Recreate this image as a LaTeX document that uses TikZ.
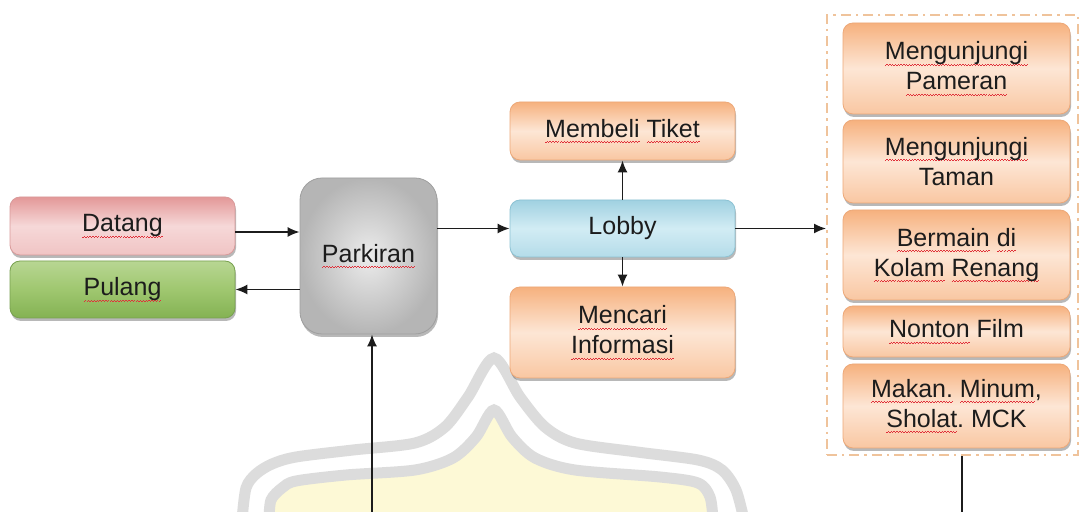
\documentclass[tikz,border=0pt]{standalone}
\usepackage{fontspec}
\setmainfont{Liberation Sans}
\usetikzlibrary{arrows.meta,shadows,calc}

\definecolor{ink}{HTML}{1C1C1C}
\definecolor{spellred}{HTML}{E0303A}
\definecolor{pinkT}{HTML}{E39898}
\definecolor{pinkM}{HTML}{F6D8D8}
\definecolor{pinkB}{HTML}{F0C4C4}
\definecolor{pinkE}{HTML}{D99A9A}
\definecolor{greenT}{HTML}{B8D693}
\definecolor{greenM}{HTML}{9FC76F}
\definecolor{greenB}{HTML}{84B253}
\definecolor{greenE}{HTML}{78A150}
\definecolor{blueT}{HTML}{A0D1E1}
\definecolor{blueM}{HTML}{D2ECF4}
\definecolor{blueB}{HTML}{B4DCE9}
\definecolor{blueE}{HTML}{8CC2D3}
\definecolor{orT}{HTML}{F6B17E}
\definecolor{orM}{HTML}{FDE6D5}
\definecolor{orB}{HTML}{F9C7A2}
\definecolor{orE}{HTML}{EDA878}
\definecolor{frameC}{HTML}{EFC39B}
\definecolor{markGray}{HTML}{DCDCDC}
\definecolor{markYellow}{HTML}{FDF9D6}

% word with a wavy red underline
\newcommand\spellmark[1]{\setbox0\hbox{#1}\leavevmode
  \rlap{\textcolor{spellred}{\hbox to\wd0{\xleaders\hbox{\rule[-2.9pt]{0.7pt}{0.45pt}\rule[-2.4pt]{0.7pt}{0.45pt}}\hfil}}}\box0\relax}

\begin{document}
\frenchspacing
\begin{tikzpicture}[x=0.5pt,y=-0.5pt,
  txt/.style={font=\fontsize{12.5}{15}\selectfont, text=ink, align=center},
  card/.style={txt, rectangle, rounded corners=5pt, inner sep=0pt, line width=0.4pt,
    drop shadow={shadow xshift=0.5pt, shadow yshift=-1.5pt, opacity=0.28, fill=black}},
  pinkcard/.style={card, draw=pinkE, top color=pinkT, bottom color=pinkB, middle color=pinkM},
  greencard/.style={card, draw=greenE, top color=greenT, bottom color=greenB, middle color=greenM},
  bluecard/.style={card, draw=blueE, top color=blueT, bottom color=blueB, middle color=blueM},
  orangecard/.style={card, draw=orE, top color=orT, bottom color=orB, middle color=orM},
  graycard/.style={card, rounded corners=11pt, draw=gray!75, inner color=gray!15, outer color=gray!58},
  frame/.style={draw=frameC, line width=1pt, dash pattern=on 5pt off 2.5pt on 1.2pt off 2.5pt},
  link/.style={draw=ink, line width=0.8pt},
  arr/.style={link, -{Latex[length=6pt,width=5pt]}},
  band/.style={draw=markGray, line width=5.5pt},
]
\useasboundingbox (0,0) rectangle (1081,512);
\fill[white] (0,0) rectangle (1081,512);

% faint emblem in the background
\begin{scope}
  \clip (0,0) rectangle (1081,512);
  \def\innerarch{(269,520) (271,500) (282,488) (296,481) (346,475) (415,470) (453,458) (476,437) (494,410) (512,437) (535,458) (575,470) (660,477) (698,483) (710,497) (713,520)}
  \def\outerarch{(242,520) (246,488) (256,474) (272,464) (296,457) (353,450) (415,443) (445,427) (468,397) (494,358) (520,397) (545,427) (575,443) (637,452) (698,460) (722,470) (736,490) (744,520)}
  \fill[markYellow] plot[smooth] coordinates {\innerarch} -- cycle;
  \draw[band] plot[smooth] coordinates {\outerarch};
  \draw[band] plot[smooth] coordinates {\innerarch};
\end{scope}

% left column
\node[pinkcard, minimum width=112.5pt, minimum height=29pt] (datang) at (122.5,226) {\spellmark{Datang}};
\node[greencard, minimum width=112.5pt, minimum height=28.5pt] (pulang) at (122.5,289.5) {\spellmark{Pulang}};
\node[graycard, minimum width=68.5pt, minimum height=78pt] (parkir) at (368.5,256) {\spellmark{Parkiran}};

% lobby and its branches
\node[bluecard, minimum width=112.5pt, minimum height=28.5pt] (lobby) at (622.5,228.5) {Lobby};
\node[orangecard, minimum width=112.5pt, minimum height=29pt] (tiket) at (622.5,131) {\spellmark{Membeli} \spellmark{Tiket}};
\node[orangecard, minimum width=112.5pt, minimum height=45.5pt] (info) at (622.5,332.5) {\spellmark{Mencari}\\\spellmark{Informasi}};

% activity group
\node[frame, rectangle, minimum width=125.5pt, minimum height=220pt, inner sep=0pt] (group) at (952.5,235) {};
\node[orangecard, minimum width=113.5pt, minimum height=45.5pt] (pameran) at (956.5,68.5) {\spellmark{Mengunjungi}\\\spellmark{Pameran}};
\node[orangecard, minimum width=113.5pt, minimum height=41.5pt] (taman) at (956.5,161.5) {\spellmark{Mengunjungi}\\Taman};
\node[orangecard, minimum width=113.5pt, minimum height=45pt] (kolam) at (956.5,255) {\spellmark{Bermain} \spellmark{di}\\\spellmark{Kolam} \spellmark{Renang}};
\node[orangecard, minimum width=113.5pt, minimum height=25.5pt] (film) at (956.5,331.5) {\spellmark{Nonton} Film};
\node[orangecard, minimum width=113.5pt, minimum height=42pt] (makan) at (956.5,406) {\spellmark{Makan.} \spellmark{Minum},\\\spellmark{Sholat}. MCK};

% connectors
\coordinate (inlet) at (372,512);
\coordinate (outlet) at (962,512);
\draw[arr] (datang.east |- 0,232) -- (parkir.west |- 0,232);
\draw[arr] (parkir.west |- pulang.east) -- (pulang.east);
\draw[arr] (parkir.east |- lobby.west) -- (lobby.west);
\draw[arr] (lobby.north) -- (tiket.south);
\draw[arr] (lobby.south) -- (info.north);
\draw[arr] (lobby.east) -- (lobby.east -| group.west);
\draw[link] (group.south -| outlet) -- (outlet);
\draw[arr] (inlet) -- (inlet |- parkir.south);
\end{tikzpicture}
\end{document}
